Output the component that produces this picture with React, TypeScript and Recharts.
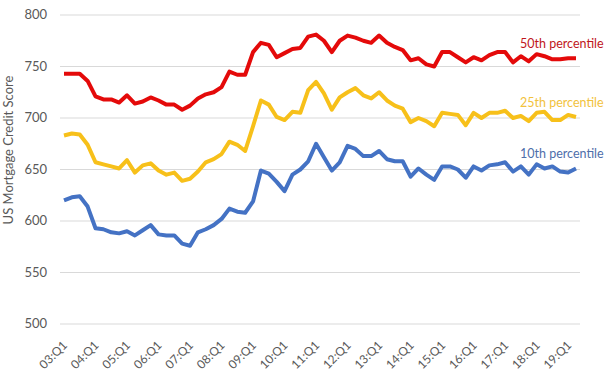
import { LineChart, Line, XAxis, YAxis, CartesianGrid, LabelList } from 'recharts';

const years = ['03', '04', '05', '06', '07', '08', '09', '10', '11', '12', '13', '14', '15', '16', '17', '18', '19'];
const quarters = ['Q1', 'Q2', 'Q3', 'Q4'];

// 03:Q1 .. 19:Q2
const categories: string[] = [];
years.forEach((y) => quarters.forEach((q) => categories.push(`${y}:${q}`)));
categories.length = 66;

const p50 = [
  743, 743, 743, 736, 721, 718, 718, 715, 722, 714, 716, 720, 717, 713, 713, 708,
  712, 719, 723, 725, 730, 745, 742, 742, 764, 773, 771, 759, 763, 767, 768, 779,
  781, 775, 764, 775, 780, 778, 775, 773, 780, 773, 769, 766, 756, 758, 752, 750,
  764, 764, 759, 754, 759, 756, 761, 764, 764, 754, 760, 755, 762, 760, 757, 757,
  758, 758,
];

const p25 = [
  683, 685, 684, 674, 657, 655, 653, 651, 659, 647, 654, 656, 649, 645, 647, 639,
  641, 648, 657, 660, 665, 677, 674, 668, 692, 717, 713, 701, 698, 706, 705, 727,
  735, 724, 708, 720, 725, 729, 722, 719, 725, 717, 712, 709, 696, 700, 697, 692,
  705, 704, 703, 693, 705, 700, 705, 705, 707, 700, 702, 697, 705, 706, 698, 698,
  703, 701,
];

const p10 = [
  620, 623, 624, 614, 593, 592, 589, 588, 590, 586, 591, 596, 587, 586, 586, 578,
  576, 589, 592, 596, 602, 612, 609, 608, 619, 649, 646, 638, 629, 645, 650, 658,
  675, 662, 649, 657, 673, 670, 663, 663, 668, 660, 658, 658, 643, 651, 645, 640,
  653, 653, 650, 642, 653, 649, 654, 655, 657, 648, 653, 645, 655, 651, 653, 648,
  647, 651,
];

const yTicks = [500, 550, 600, 650, 700, 750, 800];

const data = categories.map((q, i) => ({ q, p50: p50[i], p25: p25[i], p10: p10[i] }));

const FONT = 'Lato, "Open Sans", sans-serif';
const TICK_COLOR = '#595959';

function XTick(props: any) {
  const { x, y, payload } = props;
  const ax = x + 4;
  const ay = y + 14;
  return (
    <g transform={`translate(${ax},${ay})`}>
      <text
        x={0}
        y={0}
        transform="rotate(-45)"
        textAnchor="end"
        fill={TICK_COLOR}
        fontSize={12}
        fontFamily={FONT}
      >
        {payload.value}
      </text>
    </g>
  );
}

function YTick(props: any) {
  const { y, payload } = props;
  return (
    <text x={47} y={y + 4} textAnchor="end" fill={TICK_COLOR} fontSize={13} fontFamily={FONT}>
      {payload.value}
    </text>
  );
}

function endLabel(text: string, color: string) {
  return (props: any) => {
    const { x, y, index } = props;
    if (index !== data.length - 1) return null;
    return (
      <text x={x - 56} y={y - 10} fill={color} fontSize={12.5} fontFamily={FONT}>
        {text}
      </text>
    );
  };
}

export default function App() {
  return (
    <div style={{ position: 'absolute', left: 0, top: 0, background: '#fff' }}>
      <LineChart
        width={612}
        height={376}
        data={data}
        margin={{ top: 15, right: 32, left: 0, bottom: 0 }}
      >
        <CartesianGrid vertical={false} stroke="#d9d9d9" />
        <XAxis
          dataKey="q"
          interval={3}
          tick={(p: any) => <XTick {...p} />}
          tickLine={false}
          axisLine={false}
          height={52}
          padding={{ left: 4, right: 4 }}
        />
        <YAxis
          domain={[500, 800]}
          ticks={yTicks}
          width={60}
          tick={(p: any) => <YTick {...p} />}
          tickLine={false}
          axisLine={false}
          label={{
            content: () => (
              <text
                x={13}
                y={150}
                transform="rotate(-90 13 150)"
                textAnchor="middle"
                fill={TICK_COLOR}
                fontSize={13}
                fontFamily={FONT}
              >
                US Mortgage Credit Score
              </text>
            ),
          }}
        />
        <Line
          dataKey="p10"
          stroke="#4472C4"
          strokeWidth={4}
          dot={false}
          isAnimationActive={false}
          strokeLinejoin="round"
        >
          <LabelList dataKey="p10" content={endLabel('10th percentile', '#4E6EAA')} />
        </Line>
        <Line
          dataKey="p25"
          stroke="#F7C01A"
          strokeWidth={4}
          dot={false}
          isAnimationActive={false}
          strokeLinejoin="round"
        >
          <LabelList dataKey="p25" content={endLabel('25th percentile', '#F2C23C')} />
        </Line>
        <Line
          dataKey="p50"
          stroke="#E40A0A"
          strokeWidth={4}
          dot={false}
          isAnimationActive={false}
          strokeLinejoin="round"
        >
          <LabelList dataKey="p50" content={endLabel('50th percentile', '#C0161B')} />
        </Line>
      </LineChart>
    </div>
  );
}
